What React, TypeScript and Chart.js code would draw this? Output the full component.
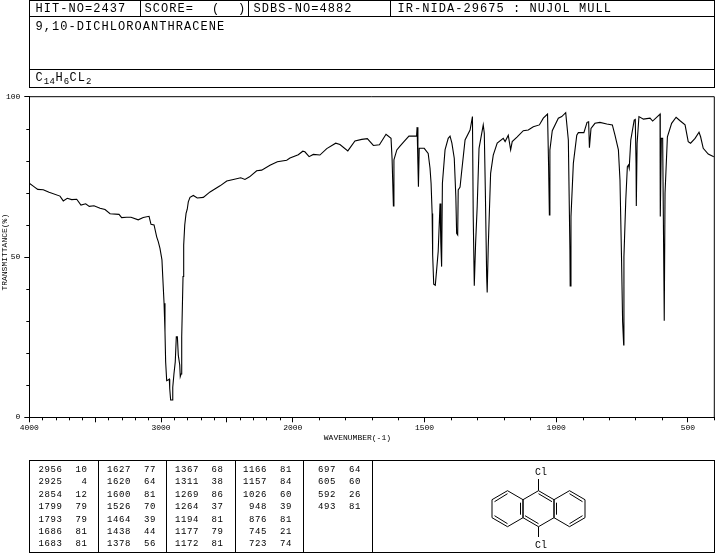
import React, { useEffect, useRef } from "react";
import { Chart, registerables } from "chart.js";

Chart.register(...registerables);

const wavenumbers = [4000,3970,3936,3894,3850,3767,3742,3712,3678,3640,3608,3572,3545,3509,3463,3425,3387,3319,3299,3261,3228,3173,3135,3091,3076,3053,3033,3021,3008,2993,2987,2977,2970,2965,2957,2947,2937,2934,2927,2914,2911,2902,2892,2884,2876,2869,2858,2854,2848,2843,2833,2828,2820,2810,2801,2793,2780,2755,2725,2679,2628,2552,2501,2451,2395,2363,2328,2274,2236,2173,2117,2046,2021,1979,1962,1954,1938,1922,1897,1871,1837,1821,1791,1764,1738,1717,1694,1671,1646,1627,1623,1621,1618,1616,1605,1593,1578,1559,1530,1528,1525,1523,1520,1501,1486,1479,1475,1471,1469,1465,1459,1454,1448,1441,1438,1435,1432,1422,1410,1403,1396,1387,1381,1378,1374,1372,1365,1359,1346,1327,1318,1315,1311,1306,1300,1293,1277,1273,1269,1264,1262,1258,1249,1239,1224,1201,1194,1182,1173,1167,1148,1125,1106,1087,1064,1049,1033,1029,1026,1024,1015,992,979,964,954,948,947,944,935,922,916,895,883,877,874,868,853,834,808,787,777,764,758,752,748,744,743,736,730,726,723,717,704,700,697,696,693,686,669,644,634,609,606,605,601,596,591,590,587,578,562,545,530,511,499,490,473,458,452,442,423,402];
const transmittance = [73.0,72.1,71.1,71.0,70.2,69.0,67.5,68.3,67.9,68.0,66.2,66.6,65.8,66.0,65.2,64.8,63.5,63.3,62.3,62.4,62.4,61.6,62.3,62.7,60.2,60.0,56.3,54.8,52.7,49.1,43.9,35.6,26.7,17.3,11.4,11.6,11.9,9.0,5.4,5.4,9.4,13.5,17.3,25.1,25.1,19.4,16.3,12.7,13.5,25.1,43.9,53.7,60.0,63.6,64.9,67.2,68.6,69.2,68.4,68.6,70.3,72.2,73.7,74.2,74.7,74.2,75.0,76.9,77.1,78.6,79.7,80.2,80.9,81.9,83.0,82.8,81.3,82.0,81.8,83.8,85.5,85.1,83.1,86.2,86.7,86.9,84.8,85.0,88.3,87.0,80.6,80.6,65.9,80.3,83.4,84.6,86.0,87.7,87.7,90.5,79.2,71.9,83.9,83.9,82.3,77.7,73.0,63.6,50.6,41.5,41.2,45.9,51.7,66.7,54.3,47.0,73.0,83.4,87.0,87.7,85.5,80.8,68.8,57.4,56.9,70.9,71.8,76.6,86.5,89.6,93.8,62.6,41.0,54.3,65.7,83.9,91.2,88.6,70.4,43.9,38.9,53.2,76.1,81.8,85.5,87.0,86.0,88.0,83.4,86.0,87.5,89.4,89.6,90.6,91.2,93.3,94.6,78.7,63.1,83.4,89.4,93.3,93.8,95.0,86.5,52.2,41.0,62.6,79.2,88.0,88.8,88.8,92.0,92.2,84.1,90.1,91.7,92.0,91.5,91.2,88.0,83.4,74.0,49.1,29.8,22.6,50.1,67.8,78.2,78.7,77.7,86.5,92.7,92.9,79.2,65.9,85.5,93.8,93.0,93.3,92.4,94.3,94.6,62.6,87.0,87.0,40.7,30.1,69.9,87.5,91.7,93.6,92.5,91.2,86.0,85.5,87.0,88.9,87.5,83.9,82.1,81.3];

const xMajorTicks = [4000,3500,3000,2500,2000,1500,1000,500];
const xLabelledTicks = [4000,3000,2000,1500,1000,500];
const xMinorTicks = [3900,3800,3700,3600,3400,3300,3200,3100,2900,2800,2700,2600,2400,2300,2200,2100,1900,1800,1700,1600,1400,1300,1200,1100,900,800,700,600,400];
const yMajorTicks = [0,50,100];
const yMinorTicks = [10,20,30,40,60,70,80,90];

const headerCells = ["HIT-NO=2437","SCORE=","SDBS-NO=4882","IR-NIDA-29675 : NUJOL MULL"];
const compoundName = "9,10-DICHLOROANTHRACENE";
const peakColumns: [string, string][][] = [
  [["2956","10"],["2925","4"],["2854","12"],["1799","79"],["1793","79"],["1686","81"],["1683","81"]],
  [["1627","77"],["1620","64"],["1600","81"],["1526","70"],["1464","39"],["1438","44"],["1378","56"]],
  [["1367","68"],["1311","38"],["1269","86"],["1264","37"],["1194","81"],["1177","79"],["1172","81"]],
  [["1166","81"],["1157","84"],["1026","60"],["948","39"],["876","81"],["745","21"],["723","74"]],
  [["697","64"],["605","60"],["592","26"],["493","81"]],
];

// The spectrum axis changes scale at 2000 cm-1, as the reference does.
const toPos = (w: number) => (w >= 2000 ? (4000 - w) / 2 : 3000 - w);
const fromPos = (p: number) => (p <= 1000 ? 4000 - 2 * p : 3000 - p);

const mono = "'Liberation Mono', monospace";

const minorTicksPlugin = {
  id: "frameAndMinorTicks",
  afterDraw(chart: any) {
    const { ctx, chartArea: a, scales } = chart;
    ctx.save();
    ctx.strokeStyle = "#000";
    ctx.lineWidth = 1;
    ctx.beginPath();
    ctx.moveTo(a.left, a.top);
    ctx.lineTo(a.right, a.top);
    ctx.lineTo(a.right, a.bottom);
    for (const w of xMinorTicks) {
      const px = Math.round(scales.x.getPixelForValue(toPos(w))) + 0.5;
      ctx.moveTo(px, a.bottom);
      ctx.lineTo(px, a.bottom + 3);
    }
    for (const t of yMinorTicks) {
      const py = Math.round(scales.y.getPixelForValue(t)) + 0.5;
      ctx.moveTo(a.left, py);
      ctx.lineTo(a.left - 3, py);
    }
    ctx.stroke();
    ctx.restore();
  },
};

function Box({ l, t, w, h, children }: any) {
  return (
    <div style={{ position: "absolute", left: l, top: t, width: w, height: h, border: "1px solid #000", boxSizing: "border-box" }}>{children}</div>
  );
}

function Txt({ x, y, size = 12, ls = 1.05, children }: any) {
  return (
    <div style={{ position: "absolute", left: x, top: y, fontFamily: mono, fontSize: size, letterSpacing: ls, lineHeight: "12px", whiteSpace: "pre", color: "#000" }}>{children}</div>
  );
}

const Sub = ({ children }: any) => (
  <span style={{ fontSize: 9, letterSpacing: 0.4, position: "relative", top: 3 }}>{children}</span>
);

const colRights = [[62.5, 87.5], [131, 156], [199, 223.5], [267, 292], [336, 361]];

function Molecule() {
  const cx = 538.5, hw = 15.5;
  const yT = 490.7, yU = 499.7, yL = 517.7, yB = 526.7;
  const bonds: number[][] = [];
  for (const k of [-2, 0, 2]) {
    const c = cx + k * hw;
    bonds.push([c - hw, yU, c, yT], [c, yT, c + hw, yU], [c - hw, yL, c, yB], [c, yB, c + hw, yL], [c - hw, yU, c - hw, yL], [c + hw, yU, c + hw, yL]);
  }
  bonds.push([cx, yT, cx, 479], [cx, yB, cx, 537]);
  const inner: number[][] = [
    [cx - 3 * hw + 2.5, yU + 2, cx - 2 * hw, yT + 3],
    [cx - 3 * hw + 2.5, yL - 2, cx - 2 * hw, yB - 3],
    [cx - hw - 2.5, yU + 3, cx - hw - 2.5, yL - 3],
    [cx, yT + 3, cx + hw - 2, yU + 2],
    [cx - hw + 2, yL - 2, cx, yB - 3],
    [cx + hw + 2.5, yU + 3, cx + hw + 2.5, yL - 3],
    [cx + 3 * hw - 2.5, yU + 2, cx + 2 * hw, yT + 3],
    [cx + 3 * hw - 2.5, yL - 2, cx + 2 * hw, yB - 3],
  ];
  return (
    <svg width={715} height={553} style={{ position: "absolute", left: 0, top: 0, pointerEvents: "none" }}>
      {[...bonds, ...inner].map((b, i) => (
        <line key={i} x1={b[0]} y1={b[1]} x2={b[2]} y2={b[3]} stroke="#000" strokeWidth={1} />
      ))}
      <text x={541} y={475} fontFamily={mono} fontSize={10} textAnchor="middle">Cl</text>
      <text x={541} y={547.5} fontFamily={mono} fontSize={10} textAnchor="middle">Cl</text>
    </svg>
  );
}

export default function App() {
  const ref = useRef<HTMLCanvasElement>(null);
  useEffect(() => {
    const chart = new Chart(ref.current!, {
      type: "line",
      data: {
        datasets: [{
          label: "Transmittance",
          data: wavenumbers.map((w, i) => ({ x: toPos(w), y: transmittance[i] })),
          borderColor: "#000",
          borderWidth: 1.1,
          pointRadius: 0,
          tension: 0,
          fill: false,
        }],
      },
      options: {
        responsive: false,
        animation: false,
        devicePixelRatio: 1,
        layout: { padding: { left: 0, top: 96.7, right: 0.7, bottom: 110.7 } },
        plugins: { legend: { display: false }, tooltip: { enabled: false } },
        scales: {
          x: {
            type: "linear",
            min: 0,
            max: 2600,
            afterBuildTicks: (s: any) => { s.ticks = xMajorTicks.map((w) => ({ value: toPos(w) })); },
            afterFit: (s: any) => { s.height = 25; },
            ticks: {
              autoSkip: false,
              maxRotation: 0,
              padding: 1,
              color: "#000",
              font: { family: mono, size: 8 },
              callback: (v: any) => { const w = Math.round(fromPos(v)); return xLabelledTicks.includes(w) ? String(w) : ""; },
            },
            grid: { drawOnChartArea: false, tickLength: 5, tickColor: "#000" },
            border: { color: "#000", width: 1 },
            title: {
              display: true,
              text: "WAVENUMBER(-1)".padEnd(20, " "),
              color: "#000",
              font: { family: mono, size: 8 },
              padding: { top: 0, bottom: 0 },
            },
          },
          y: {
            min: 0,
            max: 100,
            afterBuildTicks: (s: any) => { s.ticks = yMajorTicks.map((value) => ({ value })); },
            afterFit: (s: any) => { s.width = 29.3; },
            ticks: { padding: 4, color: "#000", font: { family: mono, size: 8 } },
            grid: { drawOnChartArea: false, tickLength: 5, tickColor: "#000" },
            border: { color: "#000", width: 1 },
            title: {
              display: true,
              text: "  TRANSMITTANCE(%)",
              color: "#000",
              font: { family: mono, size: 8 },
              padding: { top: 0, bottom: 0 },
            },
          },
        },
      },
      plugins: [minorTicksPlugin],
    } as any);
    return () => chart.destroy();
  }, []);

  return (
    <div style={{ position: "absolute", left: 0, top: 0, width: 715, height: 553, background: "#fff", overflow: "hidden" }}>
      <canvas ref={ref} width={715} height={553} style={{ position: "absolute", left: 0, top: 0, display: "block" }} />

      <Box l={29} t={0} w={112} h={17} />
      <Box l={140} t={0} w={109} h={17} />
      <Box l={248} t={0} w={143} h={17} />
      <Box l={390} t={0} w={325} h={17} />
      <Box l={29} t={16} w={686} h={54} />
      <Box l={29} t={69} w={686} h={19} />

      <Txt x={35.5} y={3}>{headerCells[0]}</Txt>
      <Txt x={144.5} y={3}>{headerCells[1]}</Txt>
      <Txt x={212} y={3}>(</Txt>
      <Txt x={238} y={3}>)</Txt>
      <Txt x={253.5} y={3}>{headerCells[2]}</Txt>
      <Txt x={397.6} y={3}>{headerCells[3]}</Txt>
      <Txt x={35.5} y={21}>{compoundName}</Txt>
      <Txt x={35.5} y={72}>C<Sub>14</Sub>H<Sub>6</Sub>CL<Sub>2</Sub></Txt>

      <Box l={29} t={460} w={70} h={93} />
      <Box l={98} t={460} w={69} h={93} />
      <Box l={166} t={460} w={70} h={93} />
      <Box l={235} t={460} w={69} h={93} />
      <Box l={303} t={460} w={70} h={93} />
      <Box l={372} t={460} w={343} h={93} />

      {peakColumns.map((col, c) =>
        col.map((row, r) => (
          <React.Fragment key={`${c}-${r}`}>
            <div style={{ position: "absolute", left: colRights[c][0] - 40, width: 40, top: 464 + r * 12.4, textAlign: "right", fontFamily: mono, fontSize: 9, letterSpacing: 0.6, lineHeight: "12px" }}>{row[0]}</div>
            <div style={{ position: "absolute", left: colRights[c][1] - 20, width: 20, top: 464 + r * 12.4, textAlign: "right", fontFamily: mono, fontSize: 9, letterSpacing: 0.6, lineHeight: "12px" }}>{row[1]}</div>
          </React.Fragment>
        ))
      )}
      <Molecule />
    </div>
  );
}
